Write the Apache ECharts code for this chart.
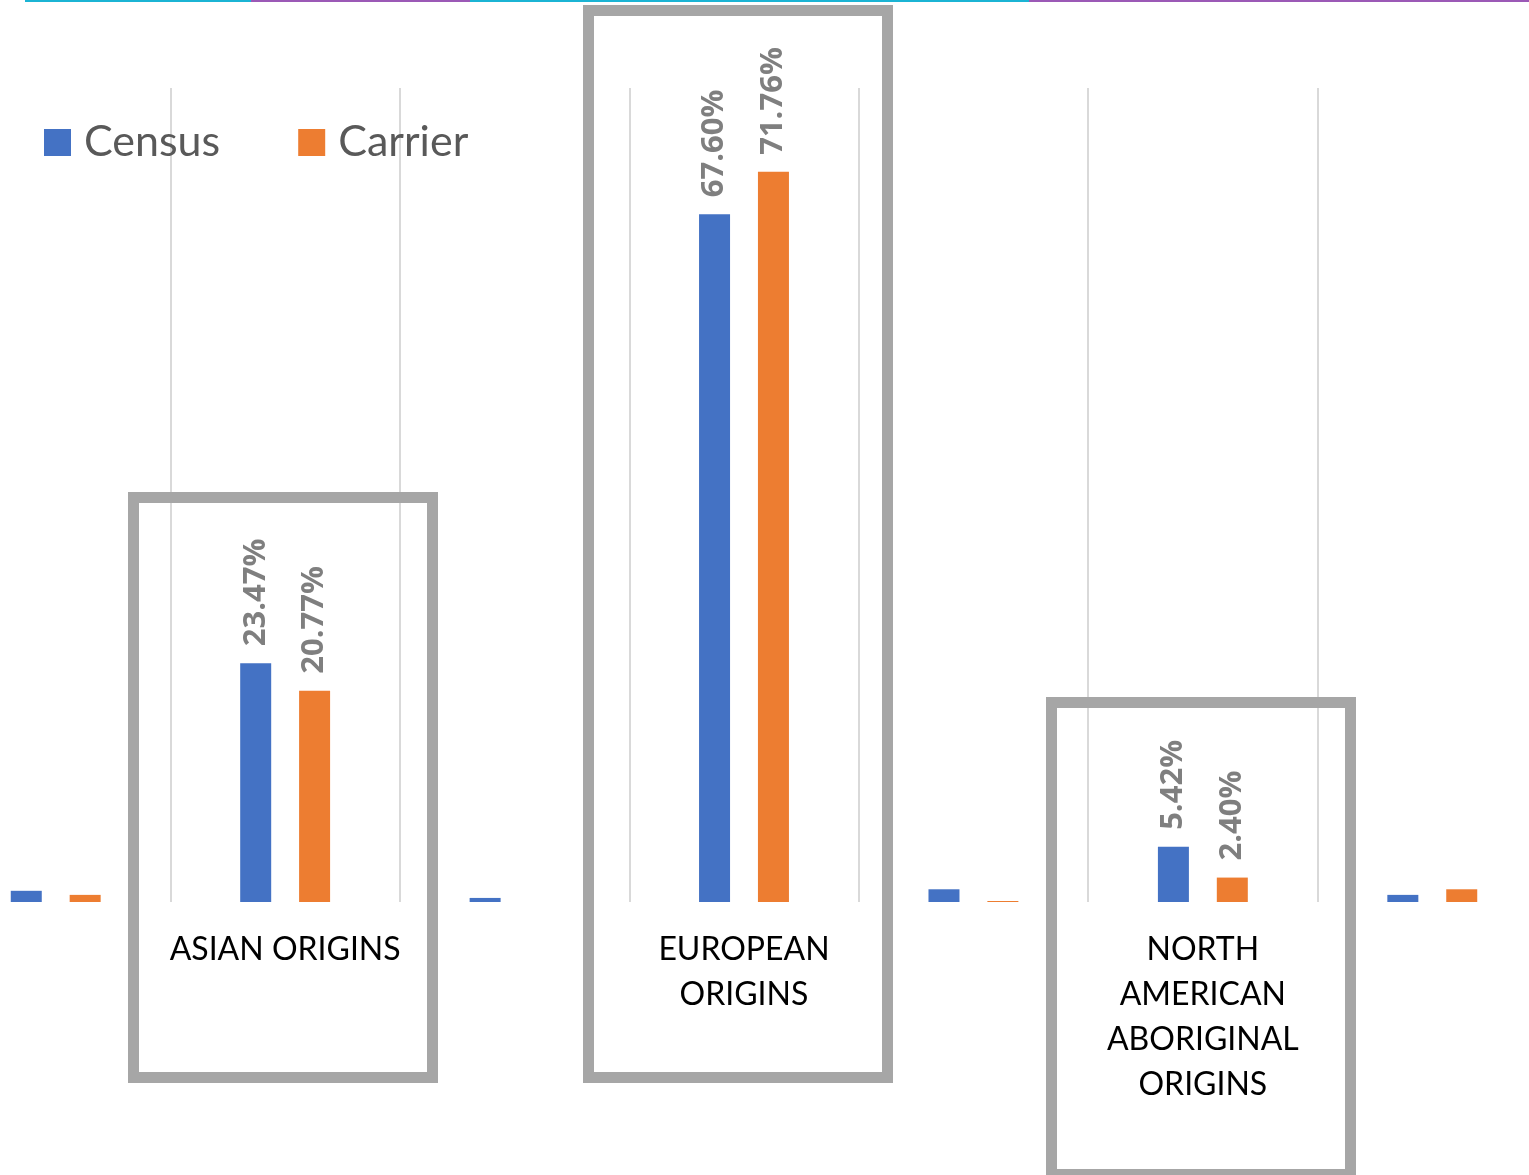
<!DOCTYPE html>
<html>
<head>
<meta charset="utf-8">
<script src="https://cdn.jsdelivr.net/npm/echarts@6/dist/echarts.min.js"></script>
<style>
  html, body { margin: 0; padding: 0; background: #fff; overflow: hidden; }
  body { width: 1529px; height: 1175px; position: relative; }
  /* the plot runs past both edges of the picture */
  #chart { position: absolute; left: -59px; top: 0; width: 1606px; height: 1175px; }
</style>
</head>
<body>
<div id="chart"></div>
<script>
// categories (the outer/in-between ones are unlabeled origin groups)
const categories = ['Other 1', 'ASIAN ORIGINS', 'Other 2', 'EUROPEAN ORIGINS', 'Other 3', 'NORTH AMERICAN ABORIGINAL ORIGINS', 'Other 4'];
const tickLabels = ['', 'ASIAN ORIGINS', '', 'EUROPEAN\nORIGINS', '', 'NORTH\nAMERICAN\nABORIGINAL\nORIGINS', ''];
const census = [1.1, 23.47, 0.4, 67.60, 1.25, 5.42, 0.7];
const carrier = [0.7, 20.77, 0, 71.76, 0.1, 2.40, 1.25];
const labelled = [false, true, false, true, false, true, false];

const chart = echarts.init(document.getElementById('chart'));

const FONT = 'Lato, "Open Sans", sans-serif';
const OX = 59; // chart canvas is shifted left by this much

const barLabel = {
  show: true,
  position: 'top',
  rotate: 90,
  align: 'left',
  verticalAlign: 'middle',
  distance: 17,
  fontFamily: '"Open Sans", sans-serif',
  fontSize: 31,
  fontWeight: 'bold',
  color: '#7f7f7f',
  formatter: p => p.value.toFixed(2) + '%'
};

const toItems = arr => arr.map((v, i) => ({
  value: v,
  label: { show: labelled[i] }
}));

// decoration boxes around the highlighted groups (picture coords)
const box = (x0, y0, x1, y1) => ({
  type: 'rect',
  z: 10,
  shape: { x: x0 + OX + 5.5, y: y0 + 5.5, width: x1 - x0 - 11, height: y1 - y0 - 11 },
  style: { fill: null, stroke: '#a6a6a6', lineWidth: 11 }
});
const topLine = (x0, x1, color) => ({
  type: 'line',
  shape: { x1: x0 + OX, y1: 1, x2: x1 + OX, y2: 1 },
  style: { stroke: color, lineWidth: 2 }
});

chart.setOption({
  backgroundColor: '#fff',
  animation: false,
  legend: {
    left: 44 + OX - 5,
    top: 116,
    itemWidth: 27,
    itemHeight: 27,
    itemGap: 78,
    icon: 'rect',
    textStyle: { fontFamily: FONT, fontSize: 43, color: '#595959', padding: [0, 0, 0, 8] }
  },
  grid: { left: 0, right: 0, top: 88, bottom: 273 },
  xAxis: {
    type: 'category',
    data: categories,
    axisLine: { show: false },
    axisTick: { show: false },
    splitLine: { show: true, interval: 0, lineStyle: { color: '#d9d9d9', width: 2 } },
    axisLabel: {
      interval: 0,
      margin: 25,
      fontFamily: FONT,
      fontSize: 32,
      lineHeight: 45,
      color: '#000',
      formatter: (v, i) => tickLabels[i]
    }
  },
  yAxis: {
    type: 'value',
    min: 0,
    max: 80,
    show: false,
    splitLine: { show: false }
  },
  series: [
    {
      name: 'Census',
      type: 'bar',
      barWidth: 31,
      barGap: '90%',
      itemStyle: { color: '#4472c4' },
      label: barLabel,
      data: toItems(census)
    },
    {
      name: 'Carrier',
      type: 'bar',
      barWidth: 31,
      itemStyle: { color: '#ed7d31' },
      label: barLabel,
      data: toItems(carrier)
    }
  ],
  graphic: [
    topLine(25, 251, '#1bb4d4'),
    topLine(251, 470, '#9b59b6'),
    topLine(470, 1029, '#1bb4d4'),
    topLine(1029, 1529, '#9b59b6'),
    box(128, 492, 438, 1083),
    box(583, 5, 893, 1083),
    box(1046, 697, 1356, 1180)
  ]
});
</script>
</body>
</html>
